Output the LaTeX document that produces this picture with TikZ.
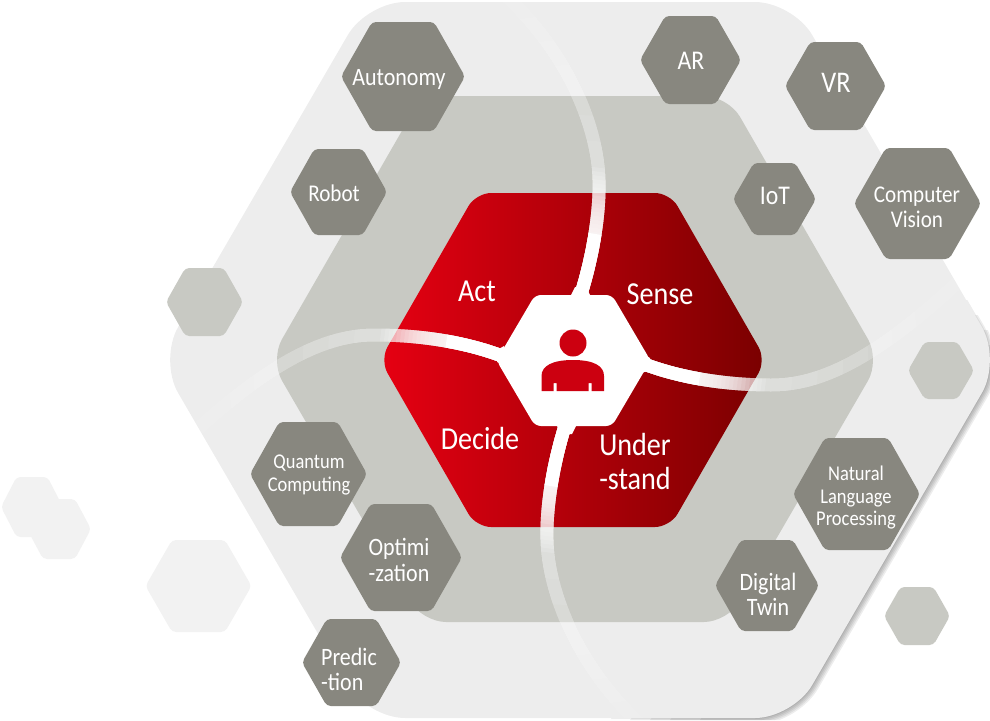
\documentclass[tikz,border=0pt]{standalone}
\usepackage{fontspec}
\setmainfont[FakeStretch=0.88]{Carlito}
\definecolor{stone}{HTML}{88877F}
\definecolor{pale}{HTML}{C8C9C3}
\definecolor{bigfill}{HTML}{EDEDED}
\definecolor{ghost}{HTML}{F2F2F2}
\definecolor{redL}{HTML}{E60012}
\definecolor{redR}{HTML}{7A0000}
\definecolor{iconred}{HTML}{CC0010}
\newcommand{\hexpath}[4]{(#1-#3,#2) -- (#1-#3*0.5,#2-#4) -- (#1+#3*0.5,#2-#4) -- (#1+#3,#2) -- (#1+#3*0.5,#2+#4) -- (#1-#3*0.5,#2+#4) -- cycle}
\newcommand{\bigpath}{(159,360) -- (367,2) -- (793,2) -- (1001,360) -- (793,718) -- (367,718) -- cycle}
\newcommand{\bandpath}{(580,297) .. controls (592,260) and (600,215) .. (599,180) .. controls (598,130) and (570,55) .. (505,-5)
 (566,423) .. controls (554,460) and (546,505) .. (547,540) .. controls (548,590) and (576,665) .. (641,725)
 (502,356) .. controls (465,342) and (420,335) .. (375,335) .. controls (330,335) and (270,355) .. (160,465)
 (644,364) .. controls (681,378) and (726,385) .. (771,385) .. controls (816,385) and (876,365) .. (986,255)}
\newcommand{\hx}[5]{\path[fill=#5,rounded corners=4pt] \hexpath{#1}{#2}{#3}{#4};}
\tikzset{
  lbl/.style={text=white,inner sep=0pt,align=center},
  lblL/.style={text=white,inner sep=0pt,align=left},
  band/.style={draw=white,line width=13pt}
}
\begin{document}
\begin{tikzpicture}[x=1pt,y=-1pt]
\useasboundingbox (0,0) rectangle (990,720);
% ghost hexes
\hx{32}{507}{31}{30}{ghost}
\hx{59}{529}{32}{30}{ghost}
\hx{198.5}{586}{53}{46}{ghost}
% shadow, lower right side only, fading towards its ends
\foreach \w/\t/\e in {14/360/700,11/345/670,8/330/650,5/315/630,2/300/610} {
  \begin{scope}
    \clip (950,\t) -- (1000,\t) -- (1000,720) -- (\e,720) -- cycle;
    \path[draw=black,opacity=0.07,line width=\w pt,rounded corners=38pt] \bigpath;
  \end{scope}
}
\path[fill=bigfill,rounded corners=38pt] \bigpath;
\path[fill=pale,rounded corners=24pt] (270,360) -- (422,96) -- (728,96) -- (880,360) -- (728,622) -- (422,622) -- cycle;
\path[left color=redL,right color=redR,rounded corners=15pt] (380,360) -- (476,193) -- (670,193) -- (766,360) -- (670,527) -- (476,527) -- cycle;
% bands
\begin{scope}
  \clip[rounded corners=38pt] \bigpath;
  \path[band,opacity=0.10] \bandpath;
  \foreach \r in {345,320,295,270,245,220} {
    \begin{scope}
      \clip (573,360) circle[radius=\r];
      \path[band,opacity=0.08] \bandpath;
    \end{scope}
  }
  \foreach \r in {130,134,...,194} {
    \begin{scope}
      \clip (573,360) circle[radius=\r];
      \path[band,opacity=0.14] \bandpath;
    \end{scope}
  }
  \begin{scope}
    \clip (573,360) circle[radius=128];
    \path[band] \bandpath;
  \end{scope}
\end{scope}
% centre
\path[fill=white,rounded corners=6pt] \hexpath{573.5}{360.5}{77}{65.5};
\path[fill=white] (570,297) -- (591,297) -- (586,287) -- (575,287) -- cycle;
\path[fill=white] (556,424) -- (577,424) -- (572,434) -- (561,434) -- cycle;
\path[fill=white] (504,346) -- (510,368) -- (497,362) -- (497,350) -- cycle;
\path[fill=white] (642,353) -- (636,375) -- (650,370) -- (650,358) -- cycle;
% icon
\path[fill=iconred] (573,343) circle[radius=13.5];
\path[fill=iconred] (541.5,391) -- (541.5,376) .. controls (541.5,366) and (552,360) .. (573,360) .. controls (594,360) and (604,366) .. (604,376) -- (604,391) -- (591.5,391) -- (591.5,383) -- (588.5,383) -- (588.5,391) -- (556.5,391) -- (556.5,383) -- (553.5,383) -- (553.5,391) -- cycle;
% satellites
\hx{403}{76.5}{62}{54.5}{stone}
\hx{338.5}{192}{48.5}{43}{stone}
\hx{204.5}{302}{38.5}{34}{pale}
\hx{690.5}{60}{50.5}{44}{stone}
\hx{835.5}{86}{50.5}{44}{stone}
\hx{774.5}{199}{41.5}{36}{stone}
\hx{917.5}{203.5}{63.5}{55.5}{stone}
\hx{941}{370.5}{33}{28.5}{pale}
\hx{856.5}{494}{63.5}{56}{stone}
\hx{767}{585.5}{52}{45.5}{stone}
\hx{917}{616}{33}{29}{pale}
\hx{308.5}{474}{58.5}{52}{stone}
\hx{401}{557.5}{61}{53.5}{stone}
\hx{351.5}{662.5}{49.5}{43.5}{stone}
% labels
\node[lbl,font=\fontsize{25}{25}\selectfont] (autonomy) at (399,79) {Autonomy};
\node[lbl,font=\fontsize{24}{25}\selectfont] (robot) at (334,193) {Robot};
\node[lbl,font=\fontsize{27}{28}\selectfont] (ar) at (691,61) {AR};
\node[lbl,font=\fontsize{30}{30}\selectfont] (vr) at (836,83) {VR};
\node[lbl,font=\fontsize{27}{28}\selectfont] (iot) at (775,196) {IoT};
\node[lbl,font=\fontsize{24}{25}\selectfont] (cv) at (917,207) {Computer\\Vision};
\node[lbl,font=\fontsize{21}{22.5}\selectfont] (qc) at (309,475) {Quantum\\Computing};
\node[lblL,font=\fontsize{25}{26}\selectfont] (opt) at (399,560) {Optimi\\-zation};
\node[lblL,font=\fontsize{25}{25}\selectfont] (pred) at (349,669) {Predic\\-tion};
\node[lbl,font=\fontsize{21}{22.5}\selectfont] (nlp) at (856,498) {Natural\\Language\\Processing};
\node[lbl,font=\fontsize{25}{25}\selectfont] (dt) at (768,594) {Digital\\Twin};
\node[lbl,font=\fontsize{32}{32}\selectfont] (act) at (477,291) {Act};
\node[lbl,font=\fontsize{32}{32}\selectfont] (sense) at (660,294) {Sense};
\node[lbl,font=\fontsize{32}{32}\selectfont] (decide) at (480,438) {Decide};
\node[lblL,font=\fontsize{32}{34}\selectfont] (under) at (635,462) {Under\\-stand};
\end{tikzpicture}
\end{document}
